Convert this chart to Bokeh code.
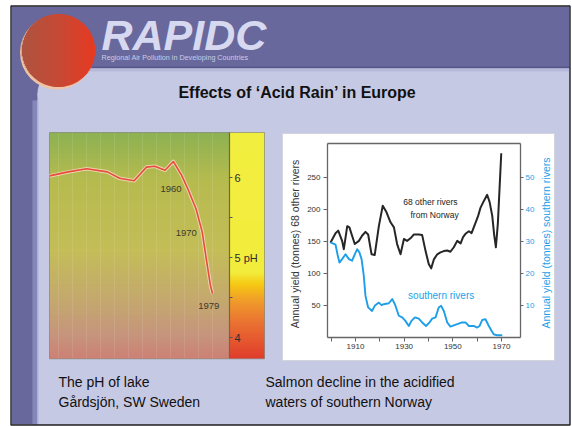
import math
from bokeh.plotting import figure
from bokeh.models import Range1d, LinearAxis, FixedTicker, Label
from bokeh.embed import file_html
from bokeh.resources import INLINE

# ---------------- data ----------------
# pH of lake Gardsjon
ph_years = [1900, 1909, 1918, 1928, 1934, 1941, 1947, 1951, 1956, 1960, 1964, 1967, 1971, 1974, 1976, 1978, 1979]
ph_values = [6.02, 6.07, 6.11, 6.07, 5.99, 5.96, 6.13, 6.14, 6.09, 6.20, 6.03, 5.86, 5.61, 5.32, 4.98, 4.65, 4.55]
ph_ticks = [4, 5, 6]
ph_minor_ticks = [4.5, 5.5]
ph_tick_labels = {5: "5 pH"}
ph_year_labels = ["1960", "1970", "1979"]
ph_year_label_x = [1958.9, 1966.3, 1977.2]
ph_year_label_y = [5.86, 5.31, 4.40]

# salmon yield, 68 other rivers from Norway (tonnes, left axis)
other_years = [1899.7, 1901.8, 1902.9, 1904.5, 1905.2, 1906.6, 1907.5, 1908.6, 1909.7, 1911.4,
               1912.7, 1914.1, 1915.2, 1916.6, 1917.9, 1919.6, 1921.2, 1922.7, 1924.4, 1925.8,
               1927.1, 1928.5, 1929.9, 1931.2, 1932.6, 1934.0, 1936.0, 1937.4, 1938.8, 1940.1,
               1941.1, 1942.2, 1943.6, 1944.9, 1946.3, 1947.7, 1949.0, 1950.4, 1951.8, 1953.2,
               1954.2, 1955.2, 1956.6, 1957.7, 1959.0, 1960.4, 1961.4, 1962.7, 1964.1, 1965.1,
               1966.2, 1967.0, 1967.7, 1968.5, 1969.9]
other_yield = [148, 163, 167, 151, 138, 174, 172, 159, 146, 151,
               159, 165, 161, 130, 129, 174, 206, 196, 180, 172,
               146, 130, 154, 151, 155, 161, 161, 160, 135, 115,
               108, 122, 130, 133, 135, 136, 134, 141, 151, 147,
               157, 162, 166, 163, 176, 190, 203, 213, 223, 212,
               190, 160, 141, 178, 288]

# salmon yield, southern rivers (tonnes, right axis)
south_years = [1899.7, 1901.8, 1902.6, 1903.4, 1904.5, 1905.9, 1907.3, 1908.6, 1909.7, 1910.7,
               1911.6, 1912.5, 1913.4, 1914.1, 1915.2, 1916.8, 1917.9, 1919.6, 1920.7, 1921.6,
               1923.7, 1925.1, 1926.2, 1927.8, 1929.2, 1930.5, 1931.9, 1933.0, 1934.4, 1936.0,
               1937.4, 1939.0, 1940.4, 1941.5, 1942.9, 1944.2, 1945.2, 1946.3, 1947.7, 1949.0,
               1950.4, 1951.8, 1953.8, 1955.2, 1956.6, 1958.6, 1960.0, 1961.0, 1962.1, 1963.4,
               1964.8, 1965.9, 1966.8, 1968.2, 1970.3]
south_yield = [29.7, 29.0, 26.0, 23.4, 24.5, 26.0, 24.5, 24.0, 26.0, 27.6,
               26.6, 24.5, 19.3, 13.0, 9.4, 8.3, 9.9, 10.9, 10.1, 10.4,
               10.7, 12.0, 10.4, 6.8, 6.3, 5.2, 3.6, 5.2, 6.3, 5.9,
               4.7, 3.6, 4.7, 5.9, 6.3, 9.4, 9.9, 8.3, 4.7, 3.4,
               3.8, 4.2, 4.7, 4.7, 3.6, 3.6, 3.1, 3.6, 5.5, 5.7,
               3.6, 2.1, 1.0, 0.7, 0.7]

left_ticks = [50, 100, 150, 200, 250]
right_ticks = [10, 20, 30, 40, 50]
year_ticks = [1900, 1910, 1920, 1930, 1940, 1950, 1960, 1970]
year_tick_labels = {1900: "", 1910: "1910", 1920: "", 1930: "1930",
                    1940: "", 1950: "1950", 1960: "", 1970: "1970"}

# ---------------- layout helpers ----------------
W, H = 572, 426
X0, X1 = 0, 572      # reference-pixel span shown by the figure
Y0, Y1 = 0, 426
FONT = "Liberation Sans"


def frame_range(v_a, px_a, v_b, px_b, px_start, px_end):
    k = (v_b - v_a) / (px_b - px_a)
    return Range1d(start=v_a + (px_start - px_a) * k, end=v_a + (px_end - px_a) * k)


def hex2rgb(h):
    h = h.lstrip("#")
    return tuple(int(h[i:i + 2], 16) for i in (0, 2, 4))


def grad(stops, t):
    for (t0, c0), (t1, c1) in zip(stops[:-1], stops[1:]):
        if t0 <= t <= t1:
            f = 0 if t1 == t0 else (t - t0) / (t1 - t0)
            a, b = hex2rgb(c0), hex2rgb(c1)
            return "#%02x%02x%02x" % tuple(int(round(a[i] + (b[i] - a[i]) * f)) for i in range(3))
    return stops[-1][1]


p = figure(width=W, height=H, x_range=Range1d(X0, X1), y_range=Range1d(Y1, Y0),
           output_backend="svg", toolbar_location=None, x_axis_type=None, y_axis_type=None,
           min_border=0, outline_line_color=None,
           background_fill_color="white", border_fill_color="white")

p.extra_x_ranges = {
    "sx": frame_range(1910, 355, 1970, 501, X0, X1),
    "phx": frame_range(1900, 49, 1979, 212, X0, X1),
}
p.extra_y_ranges = {
    "sy": frame_range(0, 337, 250, 177, Y1, Y0),
    "sy2": frame_range(0, 337, 50, 177, Y1, Y0),
    "phy": frame_range(6, 177, 4, 337, Y1, Y0),
}

# ---------------- slide background ----------------
PURPLE = "#68689c"
LAV = "#c6c9e4"
p.quad(left=11, right=569, top=6, bottom=424, fill_color=PURPLE, line_color=None)
R = 25
p.quad(left=37, right=569, top=68 + R, bottom=424, fill_color=LAV, line_color=None)
p.quad(left=37 + R, right=569, top=68, bottom=68 + R + 1, fill_color=LAV, line_color=None)
p.circle(x=[37 + R], y=[68 + R], radius=R, fill_color=LAV, line_color=None)
p.quad(left=37 + R, right=569, top=68, bottom=71, fill_color="#b6b9da", line_color=None)
p.segment(x0=[37 + R], y0=[66.8], x1=[569], y1=[66.8], line_color="#57578a", line_width=1.6)
p.quad(left=32, right=36.5, top=100, bottom=424, fill_color="#8587bb", line_color=None)
p.quad(left=36.5, right=38, top=100, bottom=424, fill_color="#aeb1d6", line_color=None)
# frame
p.quad(left=10.5, right=569.5, top=5.5, bottom=424.5, fill_color=None,
       line_color="#202020", line_width=1.4)

# red ball with peach rim
p.circle(x=[56.5], y=[52], radius=37, fill_color="#efc4a6", line_color=None)
ball_stops = [(0.0, "#ad5440"), (0.5, "#c64a36"), (1.0, "#e63a22")]
bx, by, br = 58, 50, 36.5
xs, y0s, y1s, cols = [], [], [], []
for i in range(-36, 37):
    hh = math.sqrt(max(br * br - i * i, 0))
    xs.append(bx + i)
    y0s.append(by - hh)
    y1s.append(by + hh)
    cols.append(grad(ball_stops, (i + 36) / 72))
p.segment(x0=xs, y0=y0s, x1=xs, y1=y1s, line_color=cols, line_width=1.6)

# logo
p.add_layout(Label(x=101, y=34.5, text="RAPIDC", text_font=FONT, text_font_style="bold italic",
                   text_font_size="43px", text_color="#d6d9ef", text_baseline="middle"))
p.add_layout(Label(x=101, y=57, text="Regional Air Pollution in Developing Countries",
                   text_font=FONT, text_font_size="7.2px", text_color="#c9cce6",
                   text_baseline="middle"))
# title
p.add_layout(Label(x=297, y=92, text="Effects of \u2018Acid Rain\u2019 in Europe", text_font=FONT,
                   text_font_style="bold", text_font_size="16px", text_color="#111111",
                   text_align="center", text_baseline="middle"))

# ---------------- left chart: pH ----------------
plot_stops = [(132, "#8cb152"), (180, "#b6bb4e"), (250, "#c4bd58"), (300, "#c4a86e"),
              (335, "#c6947c"), (358, "#cd8074")]
bar_stops = [(132, "#f2ee40"), (272, "#f2ec3c"), (284, "#f6c812"), (300, "#f09c2a"),
             (322, "#ea7232"), (358, "#e03c2c")]
tops, bots, pc, bc = [], [], [], []
y = 132
while y < 358:
    tops.append(y)
    bots.append(min(y + 2.4, 358.3))
    pc.append(grad(plot_stops, y + 1))
    bc.append(grad(bar_stops, y + 1))
    y += 2
p.quad(left=49, right=229, top=tops, bottom=bots, fill_color=pc, line_color=None)
p.quad(left=229, right=264, top=tops, bottom=bots, fill_color=bc, line_color=None)
p.segment(x0=[58, 72, 86, 100, 114, 128, 142, 156, 170, 184, 198, 212],
          y0=132, x1=[58, 72, 86, 100, 114, 128, 142, 156, 170, 184, 198, 212], y1=358,
          line_color="white", line_alpha=0.10, line_width=1)
p.quad(left=49, right=264, top=132, bottom=358.3, fill_color=None,
       line_color="#7b7b6a", line_alpha=0.6, line_width=1)

ph_axis = LinearAxis(y_range_name="phy", fixed_location=229, bounds=(3.74, 6.56),
                     ticker=FixedTicker(ticks=ph_ticks, minor_ticks=ph_minor_ticks),
                     major_label_overrides=ph_tick_labels)
ph_axis.axis_line_color = "#6d6b45"
ph_axis.axis_line_width = 1.2
ph_axis.major_tick_line_color = "#555555"
ph_axis.minor_tick_line_color = "#555555"
ph_axis.major_tick_in = 0
ph_axis.major_tick_out = 3
ph_axis.minor_tick_in = 0
ph_axis.minor_tick_out = 3
ph_axis.major_label_standoff = 2
ph_axis.major_label_text_font = FONT
ph_axis.major_label_text_font_size = "11px"
ph_axis.major_label_text_color = "#2e2e2e"
p.add_layout(ph_axis, "right")

p.line(ph_years, ph_values, x_range_name="phx", y_range_name="phy",
       line_color="#f6dcc4", line_width=3.6, line_alpha=0.8, line_join="round")
p.line(ph_years, ph_values, x_range_name="phx", y_range_name="phy",
       line_color="#e84c3a", line_width=1.6, line_join="round")
for t, lx, ly in zip(ph_year_labels, ph_year_label_x, ph_year_label_y):
    p.add_layout(Label(x=lx, y=ly, x_range_name="phx", y_range_name="phy", text=t,
                       text_font=FONT, text_font_size="9.5px", text_color="#3a3a2c",
                       text_align="center", text_baseline="middle"))

# ---------------- right chart: salmon ----------------
BLUE = "#1c9fe8"
p.quad(left=282, right=554, top=133, bottom=360, fill_color="white",
       line_color="#d4d4dc", line_width=1)
p.segment(x0=[327], y0=[143], x1=[520], y1=[143], line_color="#666666", line_width=1.3)


def style_axis(ax, color):
    ax.axis_line_color = "#666666"
    ax.axis_line_width = 1.3
    ax.major_tick_line_color = "#666666"
    ax.major_tick_in = 0
    ax.major_tick_out = 4
    ax.minor_tick_line_color = None
    ax.major_label_standoff = 3
    ax.major_label_text_font = FONT
    ax.major_label_text_font_size = "8px"
    ax.major_label_text_color = color


ax_l = LinearAxis(y_range_name="sy", fixed_location=327, bounds=(0, 303),
                  ticker=FixedTicker(ticks=left_ticks))
style_axis(ax_l, "#333333")
p.add_layout(ax_l, "left")

ax_r = LinearAxis(y_range_name="sy2", fixed_location=520, bounds=(0, 60.6),
                  ticker=FixedTicker(ticks=right_ticks))
style_axis(ax_r, BLUE)
ax_r.major_tick_out = 3
ax_r.major_label_standoff = 2
p.add_layout(ax_r, "right")

ax_b = LinearAxis(x_range_name="sx", fixed_location=337, bounds=(1898.5, 1977.8),
                  ticker=FixedTicker(ticks=year_ticks), major_label_overrides=year_tick_labels)
style_axis(ax_b, "#333333")
ax_b.major_label_standoff = 2
p.add_layout(ax_b, "below")

p.line(other_years, other_yield, x_range_name="sx", y_range_name="sy",
       line_color="#262626", line_width=2.0, line_join="round")
p.line(south_years, south_yield, x_range_name="sx", y_range_name="sy2",
       line_color=BLUE, line_width=1.9, line_join="round")

p.add_layout(Label(x=1940.8, y=211, x_range_name="sx", y_range_name="sy", text="68 other rivers",
                   text_font=FONT, text_font_size="8.5px", text_color="#222222",
                   text_align="center", text_baseline="middle"))
p.add_layout(Label(x=1942.5, y=192, x_range_name="sx", y_range_name="sy", text="from Norway",
                   text_font=FONT, text_font_size="8.5px", text_color="#222222",
                   text_align="center", text_baseline="middle"))
p.add_layout(Label(x=1945.2, y=13.1, x_range_name="sx", y_range_name="sy2", text="southern rivers",
                   text_font=FONT, text_font_size="10px", text_color=BLUE,
                   text_align="center", text_baseline="middle"))

p.add_layout(Label(x=294, y=243.5, angle=math.pi / 2, text="Annual yield (tonnes) 68 other rivers",
                   text_font=FONT, text_font_size="10.5px", text_color="#333333",
                   text_align="center", text_baseline="middle"))
p.add_layout(Label(x=545, y=242.5, angle=math.pi / 2, text="Annual yield (tonnes) southern rivers",
                   text_font=FONT, text_font_size="10.5px", text_color=BLUE,
                   text_align="center", text_baseline="middle"))

# ---------------- captions ----------------
for tx, ty, t in [(58, 381, "The pH of lake"), (58, 401, "G\u00e5rdsj\u00f6n, SW Sweden"),
                  (265, 381, "Salmon decline in the acidified"),
                  (265, 401, "waters of southern Norway")]:
    p.add_layout(Label(x=tx, y=ty, text=t, text_font=FONT, text_font_size="14px",
                       text_color="#111111", text_baseline="middle"))

open("out.html", "w").write(file_html(p, INLINE))
